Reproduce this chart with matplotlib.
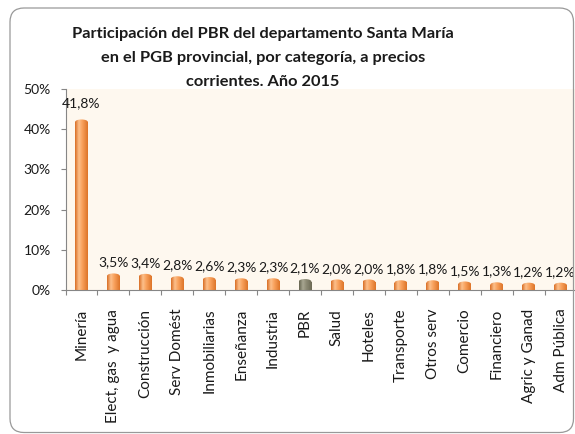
import numpy as np
import matplotlib
matplotlib.use("Agg")
import matplotlib.pyplot as plt
from matplotlib.patches import FancyBboxPatch, Ellipse, Rectangle
from matplotlib.colors import LinearSegmentedColormap

categories = ['Minería', 'Elect, gas  y agua', 'Construcción', 'Serv Domést',
              'Inmobiliarias', 'Enseñanza', 'Industria', 'PBR', 'Salud',
              'Hoteles', 'Transporte', 'Otros serv', 'Comercio', 'Financiero',
              'Agric y Ganad', 'Adm Pública']
values = [41.8, 3.5, 3.4, 2.8, 2.6, 2.3, 2.3, 2.1, 2.0, 2.0, 1.8, 1.8, 1.5, 1.3, 1.2, 1.2]
highlight = 'PBR'
yticks = [0, 10, 20, 30, 40, 50]
title_lines = ['Participación del PBR del departamento Santa María',
               'en el PGB provincial, por categoría, a precios',
               'corrientes. Año 2015']

plt.rcParams['font.family'] = ['Lato', 'DejaVu Sans']

W, H, DPI = 575, 434, 100
fig = plt.figure(figsize=(W / DPI, H / DPI), dpi=DPI)
fig.patch.set_facecolor('white')

# outer rounded border
border = FancyBboxPatch((10 / DPI, 1.5 / DPI), (573.5 - 10) / DPI, (426 - 1.5) / DPI,
                        boxstyle='round,pad=0,rounding_size=0.14',
                        transform=fig.dpi_scale_trans, facecolor='none',
                        edgecolor='#999999', linewidth=0.9)
fig.patches.append(border)

ax_left, ax_right, ax_top, ax_bottom = 65.5, 576.5, 89, 290
ax = fig.add_axes([ax_left / W, 1 - ax_bottom / H, (ax_right - ax_left) / W,
                   (ax_bottom - ax_top) / H])
ax.set_facecolor('#FEF8EF')

n = len(categories)
ax.set_xlim(-0.5, n - 0.5)
ax.set_ylim(0, 50)

orange = LinearSegmentedColormap.from_list('or', [(0, '#D86E25'), (0.3, '#FCC08C'),
                                                  (0.55, '#F9A35E'), (1, '#DD7429')])
grey = LinearSegmentedColormap.from_list('gr', [(0, '#66644F'), (0.3, '#A8A792'),
                                                (0.55, '#8E8C76'), (1, '#6C6A55')])
grad = np.linspace(0, 1, 64).reshape(1, -1)

bw = 0.40
cap_h = 5 / ((ax_bottom - ax_top) / 50.0)  # 5 px in data units
for i, (cat, v) in enumerate(zip(categories, values)):
    cmap = grey if cat == highlight else orange
    rect = Rectangle((i - bw / 2, 0), bw, v, facecolor='none', edgecolor='none')
    ax.add_patch(rect)
    im = ax.imshow(grad, cmap=cmap, extent=[i - bw / 2, i + bw / 2, 0, v],
                   aspect='auto', origin='lower', zorder=2, interpolation='bilinear')
    im.set_clip_path(rect)
    ell = Ellipse((i, v), bw, cap_h, facecolor='none', edgecolor='none')
    ax.add_patch(ell)
    im2 = ax.imshow(grad, cmap=cmap, extent=[i - bw / 2, i + bw / 2, v - cap_h, v + cap_h],
                    aspect='auto', origin='lower', zorder=2.1, interpolation='bilinear')
    im2.set_clip_path(ell)
    off_px = 13 + 0.15 * v
    ax.annotate(f'{v:.1f}%'.replace('.', ','), xy=(i, v), xytext=(0, off_px * 72 / DPI),
                textcoords='offset points', ha='center', va='center',
                fontsize=10, color='#1a1a1a', zorder=5, annotation_clip=False)

ax.set_xlim(-0.5, n - 0.5)
ax.set_ylim(0, 50)

# ticks
ax.set_xticks(np.arange(n + 1) - 0.5)
ax.set_xticklabels([])
ax.set_xticks(np.arange(n), minor=True)
ax.set_xticklabels(categories, minor=True, rotation=90, fontsize=11, color='#1a1a1a')
ax.tick_params(axis='x', which='major', length=3.6, width=0.8, color='#868686', direction='out')
ax.tick_params(axis='x', which='minor', length=0, pad=13.5)
ax.set_yticks(yticks)
ax.set_yticklabels([f'{t}%' for t in yticks], fontsize=10, color='#1a1a1a')
ax.tick_params(axis='y', length=3.6, width=0.8, color='#868686', direction='out', pad=7)

for s in ['top', 'right']:
    ax.spines[s].set_visible(False)
for s in ['left', 'bottom']:
    ax.spines[s].set_color('#868686')
    ax.spines[s].set_linewidth(0.8)

# title
for k, line in enumerate(title_lines):
    fig.text(263 / W, 1 - (38 + 24 * k) / H, line, ha='center', va='baseline',
             fontsize=11.8, fontweight='bold', color='#1a1a1a')

fig.savefig('out.png', dpi=DPI)
